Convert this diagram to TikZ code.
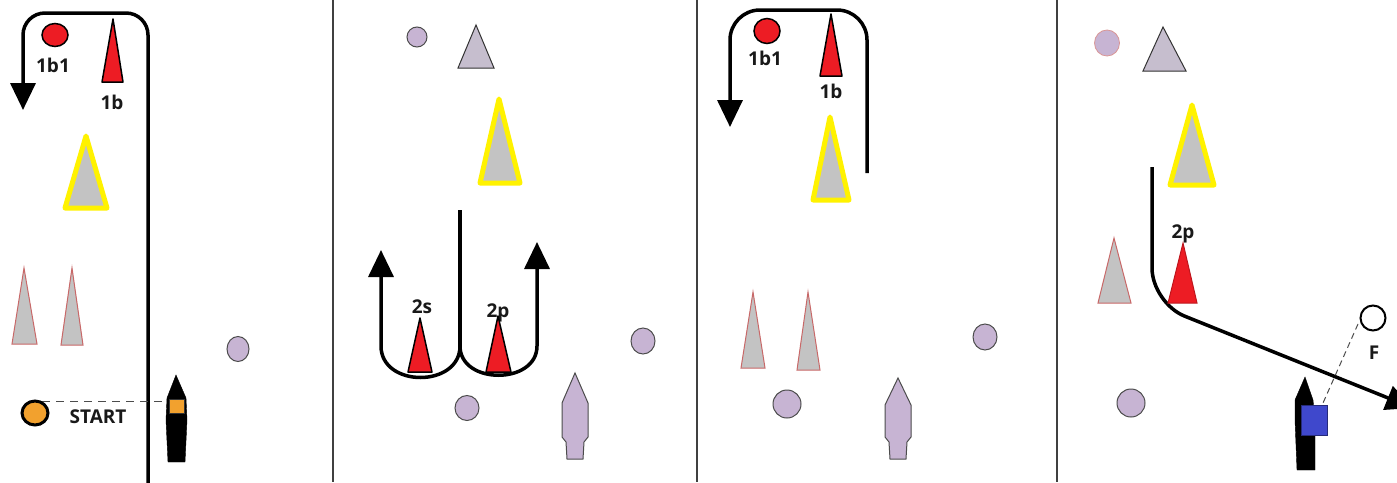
\documentclass[tikz,border=0pt]{standalone}
\usepackage{fontspec}
\setmainfont{Open Sans}
\usetikzlibrary{arrows.meta}
\definecolor{conered}{HTML}{ED1C24}
\definecolor{coneyellow}{HTML}{FFF200}
\definecolor{conegray}{HTML}{C3C3C3}
\definecolor{coneedge}{HTML}{C86868}
\definecolor{lilac}{HTML}{C7B4D3}
\definecolor{lilacgray}{HTML}{C6BECE}
\definecolor{buoyorange}{HTML}{F2A12E}
\definecolor{boatblue}{HTML}{3F48CC}
\tikzset{
  route/.style={line width=3.5pt, black},
  headtip/.style={-{Triangle[width=25pt,length=27pt]}},
  divider/.style={line width=1.5pt, black!75},
  redcone/.style={fill=conered, draw=black, line width=1.5pt, line join=round},
  redconeb/.style={fill=conered, draw=conered!80!black, line width=1pt},
  graycone/.style={fill=conegray, draw=coneedge, line width=1pt},
  bigcone/.style={fill=conegray, draw=coneyellow, line width=5pt, line join=round},
  smalltri/.style={fill=lilacgray, draw=black!80, line width=1pt},
  lilacball/.style={fill=lilac, draw=black!70, line width=1pt},
  lilacboat/.style={fill=lilac, draw=black!70, line width=1pt},
  blackboat/.style={fill=black, draw=black},
  dashline/.style={dashed, dash pattern=on 8pt off 6pt, line width=1pt, black!70},
  lbl/.style={font=\bfseries\fontsize{19}{19}\selectfont, text=black!90, inner sep=0pt}
}
\begin{document}
\begin{tikzpicture}[x=1pt,y=-1pt]
\clip (0,0) rectangle (1397,482);
\fill[white] (0,0) rectangle (1397,482);

% dividers
\draw[divider] (333,0) -- (333,482);
\draw[divider] (697,0) -- (697,482);
\draw[divider] (1057,0) -- (1057,482);

% ---------------- panel 1 ----------------
\coordinate (p1a) at (148,486);
\coordinate (p1b) at (148,13);
\coordinate (p1c) at (23,13);
\coordinate (p1d) at (23,110);
\draw[route, headtip, rounded corners=22pt] (p1a) -- (p1b) -- (p1c) -- (p1d);
\draw[fill=conered, draw=black, line width=1.5pt] (55,35) ellipse [x radius=13pt, y radius=11.5pt];
\node[lbl] (l1b1) at (53,65) {1b1};
\filldraw[redcone] (113,19) -- (123,82) -- (102,82) -- cycle;
\node[lbl] (l1b) at (112,102) {1b};
\filldraw[bigcone] (86,136) -- (107,208) -- (65,208) -- cycle;
\filldraw[graycone] (24,268) -- (37,344) -- (12,344) -- cycle;
\filldraw[graycone] (72,268) -- (83,345) -- (61,345) -- cycle;
\coordinate (st1) at (42,401);
\coordinate (st2) at (172,401);
\draw[dashline] (st1) -- (st2);
\draw[fill=buoyorange, draw=black, line width=3pt] (35,413) ellipse [x radius=13pt, y radius=12pt];
\node[lbl] (lstart) at (98,417) {START};
\filldraw[blackboat] (176,375) -- (186,398) -- (187,420) -- (185,462) -- (168,462) -- (166,420) -- (167,398) -- cycle;
\filldraw[fill=buoyorange, draw=black!80, line width=0.8pt] (169,399) rectangle (184,413);
\draw[lilacball] (238,349) ellipse [x radius=11pt, y radius=12.5pt];

% ---------------- panel 2 ----------------
\draw[lilacball] (417,37) ellipse [x radius=10pt, y radius=10pt];
\filldraw[smalltri] (476,25) -- (494,68) -- (458,68) -- cycle;
\filldraw[bigcone] (499,99) -- (520,183) -- (480,183) -- cycle;
\coordinate (m1) at (460,210);
\coordinate (m2) at (460,346);
\draw[route] (m1) -- (m2);
\coordinate (ua) at (381,250);
\coordinate (ub) at (381,346);
\coordinate (uc) at (537,346);
\coordinate (ud) at (537,242);
\draw[route, {Triangle[width=25pt,length=27pt]}-{Triangle[width=25pt,length=27pt]}]
  (ua) -- (ub) .. controls (381,388) and (460,388) .. (m2)
  .. controls (460,385) and (537,385) .. (uc) -- (ud);
\node[lbl] (l2s) at (422,307) {2s};
\node[lbl] (l2p) at (498,313) {2p};
\filldraw[redcone] (420,318) -- (432,372) -- (408,372) -- cycle;
\filldraw[redcone] (498,316) -- (511,372) -- (486,372) -- cycle;
\draw[lilacball] (467,408) ellipse [x radius=12pt, y radius=12.5pt];
\draw[lilacball] (643,341) ellipse [x radius=12pt, y radius=13pt];
\filldraw[lilacboat] (575,373) -- (588,403) -- (588,437) -- (584,442) -- (583,459) -- (567,459) -- (566,442) -- (562,437) -- (562,403) -- cycle;

% ---------------- panel 3 ----------------
\coordinate (q1a) at (867,173);
\coordinate (q1b) at (867,10);
\coordinate (q1c) at (730,10);
\coordinate (q1d) at (730,127);
\draw[route, headtip, rounded corners=30pt] (q1a) -- (q1b) -- (q1c) -- (q1d);
\draw[fill=conered, draw=black, line width=1.5pt] (767,31) ellipse [x radius=13pt, y radius=12.5pt];
\node[lbl] (l3b1) at (765,58) {1b1};
\filldraw[redcone] (831,14) -- (842,76) -- (820,76) -- cycle;
\node[lbl] (l3b) at (831,91) {1b};
\filldraw[bigcone] (830,117) -- (849,200) -- (813,200) -- cycle;
\filldraw[graycone] (753,292) -- (765,368) -- (741,368) -- cycle;
\filldraw[graycone] (808,292) -- (820,370) -- (797,370) -- cycle;
\draw[lilacball] (787,404) ellipse [x radius=14pt, y radius=14pt];
\draw[lilacball] (985,337) ellipse [x radius=12pt, y radius=13pt];
\filldraw[lilacboat] (898,378) -- (911,405) -- (911,437) -- (907,442) -- (906,459) -- (890,459) -- (889,442) -- (885,437) -- (885,405) -- cycle;

% ---------------- panel 4 ----------------
\draw[fill=lilac, draw=coneedge!70, line width=0.8pt] (1107,43) ellipse [x radius=12.5pt, y radius=13pt];
\filldraw[smalltri] (1163,27) -- (1186,71) -- (1143,71) -- cycle;
\filldraw[bigcone] (1192,105) -- (1214,185) -- (1170,185) -- cycle;
\coordinate (r1) at (1152,167);
\coordinate (r2) at (1152,303);
\coordinate (r3) at (1413,408);
\draw[route, headtip, rounded corners=35pt] (r1) -- (r2) -- (r3);
\filldraw[graycone] (1114,238) -- (1131,303) -- (1098,303) -- cycle;
\node[lbl] (l4p) at (1183,234) {2p};
\filldraw[redconeb] (1183,243) -- (1197,303) -- (1168,303) -- cycle;
\draw[lilacball] (1131,403) ellipse [x radius=14pt, y radius=14pt];
\coordinate (f1) at (1358,324);
\coordinate (f2) at (1323,403);
\draw[dashline, dash pattern=on 6pt off 4pt] (f1) -- (f2);
\draw[fill=white, draw=black, line width=2pt] (1373,318) ellipse [x radius=12.5pt, y radius=12.5pt];
\node[lbl] (lf) at (1374,353) {F};
\filldraw[blackboat] (1305,377) -- (1313,400) -- (1315,420) -- (1315,470) -- (1297,470) -- (1295,420) -- (1295,400) -- cycle;
\filldraw[fill=boatblue, draw=boatblue!60!black, line width=1pt] (1301,405) rectangle (1327,435);
\end{tikzpicture}
\end{document}
